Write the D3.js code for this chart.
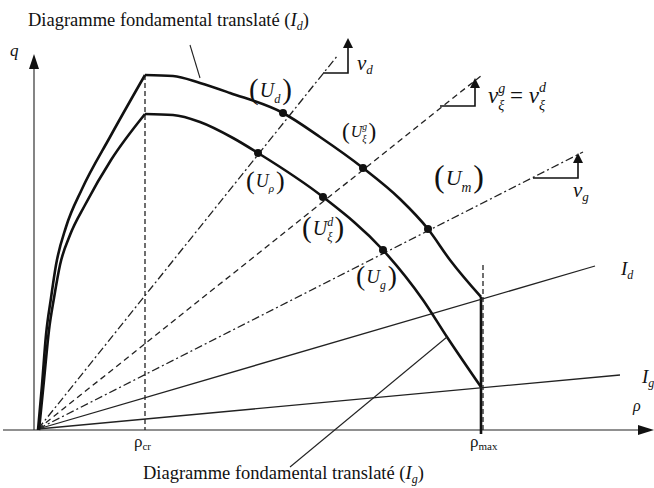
<!DOCTYPE html>
<html>
<head>
<meta charset="utf-8">
<script src="https://cdn.jsdelivr.net/npm/d3@7"></script>
<style>
  html, body { margin: 0; padding: 0; background: #fff; }
  svg { display: block; }
  text { font-family: "Liberation Serif", "Times New Roman", serif; fill: #111; }
</style>
</head>
<body>
<svg id="chart" width="654" height="488"></svg>
<script>
// Fundamental diagram q(ρ), its translated copy, and the speed rays from the origin.
const rhoCr = 111;
const rhoMax = 447;
const tickValues = [rhoCr, rhoMax];
const tickSubs = ["cr", "max"];

// Translated fundamental diagram (I_d): free branch and congested branch
const upperRise = [[4,0],[8,45],[12,95],[17,132],[22,165],[32,203],[48,241],[76,293],[111,355]];
const upperFall = [[111,355],[139,354],[166,347],[196,337],[249,317],[286,293],[329,262],[366,231],[394,201],[416,170],[447,133]];
// Translated fundamental diagram (I_g)
const lowerRise = [[5,0],[10,50],[15,100],[20,132],[26,165],[36,195],[51,225],[77,270],[111,316]];
const lowerFall = [[111,316],[139,315],[166,308],[199,292],[224,277],[289,233],[349,180],[389,130],[413,93],[447,43]];

// States marked on the two curves
const upperStates = [[249,317],[329,262],[394,201]];
const lowerStates = [[224,277],[289,233],[349,180]];

// Rays from the origin: end point and stroke style
const rayOrigin = [4, 1];
const rayEnds = [[304,375],[448,355],[549,278],[561,164],[586,55]];
const rayStyles = ["dashdot","dash","dashdot","solid","solid"];

// Speed symbols: corner, horizontal length, vertical length
const speedMarks = [[289,357,25,35],[406,324,35,28],[499,252,45,25]];

const svg = d3.select("#chart");
const x = d3.scaleLinear().domain([0, 620]).range([34, 654]);
const y = d3.scaleLinear().domain([0, 380]).range([430, 50]);

const dashes = { dashdot: "8,3,2,3", dash: "6,4", solid: null };

// Axes
svg.append("line")
  .attr("x1", x(-31)).attr("y1", y(0)).attr("x2", x(606)).attr("y2", y(0))
  .attr("stroke", "#222").attr("stroke-width", 1.2);
svg.append("line")
  .attr("x1", x(0)).attr("y1", y(0)).attr("x2", x(0)).attr("y2", y(362))
  .attr("stroke", "#333").attr("stroke-width", 1.2);
// arrowheads
svg.append("path")
  .attr("d", `M${x(620)},${y(0)} L${x(604)},${y(0)-5} L${x(604)},${y(0)+5} Z`)
  .attr("fill", "#111");
svg.append("path")
  .attr("d", `M${x(0)},${y(376)} L${x(0)-5},${y(361)} L${x(0)+5},${y(361)} Z`)
  .attr("fill", "#111");

// Critical density guide
svg.append("line")
  .attr("x1", x(rhoCr)).attr("y1", y(355)).attr("x2", x(rhoCr)).attr("y2", y(0))
  .attr("stroke", "#222").attr("stroke-width", 1.3).attr("stroke-dasharray", "5,3");
// Maximum density guide
svg.append("line")
  .attr("x1", x(rhoMax + 2)).attr("y1", y(165)).attr("x2", x(rhoMax + 2)).attr("y2", y(0))
  .attr("stroke", "#222").attr("stroke-width", 1.3).attr("stroke-dasharray", "5,3");
svg.append("line")
  .attr("x1", x(rhoMax)).attr("y1", y(133)).attr("x2", x(rhoMax)).attr("y2", y(-4))
  .attr("stroke", "#111").attr("stroke-width", 2.6);

// Rays
rayEnds.forEach((e, i) => {
  svg.append("line")
    .attr("x1", x(rayOrigin[0])).attr("y1", y(rayOrigin[1]))
    .attr("x2", x(e[0])).attr("y2", y(e[1]))
    .attr("stroke", "#222").attr("stroke-width", 1.3)
    .attr("stroke-dasharray", dashes[rayStyles[i]]);
});

// Speed symbols
speedMarks.forEach(m => {
  const [cx, cy, hl, vl] = m;
  svg.append("path")
    .attr("d", `M${x(cx)},${y(cy)} H${x(cx + hl)} V${y(cy + vl - 9)}`)
    .attr("fill", "none").attr("stroke", "#111").attr("stroke-width", 1.6);
  svg.append("path")
    .attr("d", `M${x(cx + hl)},${y(cy + vl)} L${x(cx + hl) - 5},${y(cy + vl - 10)} L${x(cx + hl) + 5},${y(cy + vl - 10)} Z`)
    .attr("fill", "#111");
});

// Curves
const line = d3.line().x(d => x(d[0])).y(d => y(d[1])).curve(d3.curveMonotoneX);
[upperRise, upperFall, lowerRise, lowerFall].forEach(pts => {
  svg.append("path").attr("d", line(pts))
    .attr("fill", "none").attr("stroke", "#111").attr("stroke-width", 2.6)
    .attr("stroke-linejoin", "round");
});

// States
svg.selectAll("circle.st")
  .data(upperStates.concat(lowerStates))
  .join("circle").attr("class", "st")
  .attr("cx", d => x(d[0])).attr("cy", d => y(d[1])).attr("r", 4)
  .attr("fill", "#111");

// Leader lines for the two curve captions
svg.append("line")
  .attr("x1", x(156)).attr("y1", y(385)).attr("x2", x(166)).attr("y2", y(352))
  .attr("stroke", "#222").attr("stroke-width", 1.1);
svg.append("line")
  .attr("x1", x(256)).attr("y1", y(-37)).attr("x2", x(413)).attr("y2", y(93))
  .attr("stroke", "#222").attr("stroke-width", 1.1);

// Text built from pieces: {t, s: size, it: italic, dy: baseline offset, dx, hold: don't advance}
function mathText(x0, y0, parts) {
  let cx = x0;
  parts.forEach(p => {
    const el = svg.append("text")
      .attr("x", cx + (p.dx || 0)).attr("y", y0 + (p.dy || 0))
      .attr("xml:space", "preserve")
      .style("white-space", "pre")
      .style("font-size", p.s + "px")
      .style("font-style", p.it ? "italic" : "normal")
      .text(p.t);
    const w = el.node().getComputedTextLength();
    if (!p.hold) cx += w + (p.dx || 0);
  });
}

function stateLabel(x0, y0, sub, sup, size) {
  const ps = size * 1.45;
  const parts = [{ t: "(", s: ps, dy: 2 }, { t: "U", s: size, it: true, dx: 1 }];
  if (sup) parts.push({ t: sup, s: size * 0.6, it: true, dy: -size * 0.45, hold: true });
  parts.push({ t: sub, s: size * 0.62, it: true, dy: size * 0.3 });
  parts.push({ t: ")", s: ps, dy: 2, dx: 2 });
  mathText(x0, y0, parts);
}

// Captions
mathText(28, 26, [
  { t: "Diagramme fondamental translaté (", s: 18.5 },
  { t: "I", s: 18.5, it: true },
  { t: "d", s: 12, it: true, dy: 4 },
  { t: ")", s: 18.5 }
]);
mathText(143, 479, [
  { t: "Diagramme fondamental translaté (", s: 18.5 },
  { t: "I", s: 18.5, it: true },
  { t: "g", s: 12, it: true, dy: 4 },
  { t: ")", s: 18.5 }
]);

// Axis labels
mathText(10, 56, [{ t: "q", s: 17, it: true }]);
mathText(633, 411, [{ t: "ρ", s: 16, it: true }]);
tickValues.forEach((v, i) => {
  mathText(x(v) - 11, 447, [{ t: "ρ", s: 17 }, { t: tickSubs[i], s: 11, dy: 3 }]);
});

// Ray labels
mathText(621, 275, [{ t: "I", s: 19, it: true }, { t: "d", s: 12, it: true, dy: 4 }]);
mathText(642, 383, [{ t: "I", s: 19, it: true }, { t: "g", s: 12, it: true, dy: 4 }]);
mathText(357, 70, [{ t: "v", s: 21, it: true }, { t: "d", s: 13, it: true, dy: 4 }]);
mathText(573, 197, [{ t: "v", s: 21, it: true }, { t: "g", s: 13, it: true, dy: 4 }]);
mathText(488, 103, [
  { t: "v", s: 23, it: true },
  { t: "g", s: 14, it: true, dy: -10, hold: true },
  { t: "ξ", s: 14, it: true, dy: 7 },
  { t: "\u00a0=\u00a0", s: 23 },
  { t: "v", s: 23, it: true },
  { t: "d", s: 14, it: true, dy: -11, hold: true },
  { t: "ξ", s: 14, it: true, dy: 7 }
]);

// State labels
stateLabel(249, 97, "d", null, 20);
stateLabel(342, 137, "ξ", "g", 16);
stateLabel(246, 187, "ρ", null, 18);
stateLabel(302, 235, "ξ", "d", 20);
stateLabel(356, 283, "g", null, 19);
stateLabel(434, 185, "m", null, 22);
</script>
</body>
</html>
